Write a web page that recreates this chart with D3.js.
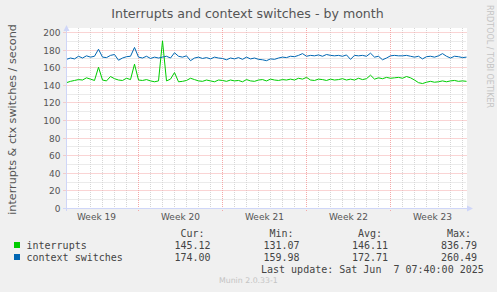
<!DOCTYPE html>
<html lang="en">
<head>
    <meta charset="UTF-8">
    <title>Interrupts and context switches - by month</title>
    <script src="https://cdn.jsdelivr.net/npm/d3@7"></script>
    <style>
        body { margin: 0; background: #f0f0f0; }
        text { font-family: "DejaVu Sans", sans-serif; fill: #555; }
        .mono { font-family: "DejaVu Sans Mono", monospace; font-size: 10px; fill: #444; white-space: pre; }
    </style>
</head>
<body>
    <script>
        // samples every 8 hours from the start of the window
        const interrupts = [
            143, 144.5, 145.5, 146.5, 146, 148.5, 147, 145.5, 160.5, 146,
            145, 150, 147.5, 146, 145.5, 148, 146.5, 164, 146, 145.5,
            146.5, 145, 144, 145, 190.5, 145, 147, 154.5, 144, 144.5,
            145.5, 148, 146.5, 145, 144.5, 146, 145, 144, 146, 145.5,
            144.5, 146, 145, 145.5, 144, 146.5, 145, 144.5, 146, 146.5,
            145, 147, 146, 145.5, 146.5, 146, 147, 146, 148, 147,
            149, 146, 145.5, 147, 146.5, 145.5, 147, 146, 146.5, 147.5,
            146, 147, 146, 148, 146.5, 147.5, 151.5, 147, 148.5, 147.5,
            149, 148, 148.5, 149, 148, 150, 148.5, 146, 143, 142,
            143.5, 144.5, 143.5, 144, 145, 144, 145, 145.5, 144.5, 145,
            144.5
        ];
        const contextSwitches = [
            169.5, 171, 170, 173, 171, 173.5, 172, 173, 181, 172,
            171.5, 174, 175, 168.5, 171, 172.5, 173, 183, 172, 171,
            173, 170.5, 172, 171, 172, 173, 171, 177, 173, 172,
            173.5, 168, 171, 172, 170.5, 171.5, 170, 172, 171, 170.5,
            169, 171, 170, 171.5, 169.5, 172, 170, 171, 169.5, 169,
            168, 170, 169.5, 171, 172, 171.5, 173, 172.5, 174, 176,
            173, 174, 173.5, 174.5, 173, 175, 174, 173.5, 174, 173,
            174.5, 169.5, 174, 173.5, 174, 173, 176.5, 172, 173, 169,
            171, 173.5, 174, 173.5, 173.5, 174, 173, 172, 173, 170,
            172.5, 173, 172, 173.5, 176, 173, 171, 173, 172.5, 171.5,
            172
        ];
        const yTicks = [0, 20, 40, 60, 80, 100, 120, 140, 160, 180, 200];
        const weekStarts = ["2025-05-05", "2025-05-12", "2025-05-19", "2025-05-26", "2025-06-02"];
        const weekLabels = ["Week 19", "Week 20", "Week 21", "Week 22", "Week 23"];
        const seriesNames = ["interrupts", "context switches"];
        const seriesColors = ["#00cc00", "#0066b3"];
        const statHeaders = ["Cur:", "Min:", "Avg:", "Max:"];
        const stats = [
            ["145.12", "131.07", "146.11", "836.79"],
            ["174.00", "159.98", "172.71", "260.49"]
        ];

        const width = 497, height = 292;
        const start = Date.UTC(2025, 4, 6);
        const end = start + 400 * 2 * 3600e3;
        const step = 8 * 3600e3;

        const svg = d3.select("body").append("svg")
            .attr("width", width)
            .attr("height", height);

        svg.append("rect").attr("width", width).attr("height", height).attr("fill", "#f0f0f0");

        const x = d3.scaleUtc().domain([start, end]).range([66.5, 466.5]);
        const y = d3.scaleLinear().domain([0, 200]).range([208.5, 32.5]);
        const py = v => Math.round(y(v) - 0.5) + 0.5;

        svg.append("rect")
            .attr("x", 66).attr("y", 28)
            .attr("width", 401).attr("height", 181)
            .attr("fill", "#fff");

        // minor grid
        const grid = svg.append("g").attr("stroke-width", 1).attr("stroke-dasharray", "1,1");
        grid.selectAll(".vmin")
            .data(d3.utcDay.range(new Date(start), new Date(end)).slice(1))
            .enter().append("line")
            .attr("x1", d => x(d)).attr("x2", d => x(d))
            .attr("y1", 28).attr("y2", 208)
            .attr("stroke", "#d6d6d6");
        grid.selectAll(".hmin")
            .data(d3.range(10, 201, 20))
            .enter().append("line")
            .attr("x1", 66.5).attr("x2", 466.5)
            .attr("y1", d => py(d)).attr("y2", d => py(d))
            .attr("stroke", "#d6d6d6");

        // major grid
        grid.selectAll(".vmaj")
            .data(weekStarts.slice(1).map(d => new Date(d)))
            .enter().append("line")
            .attr("x1", d => x(d)).attr("x2", d => x(d))
            .attr("y1", 28).attr("y2", 211)
            .attr("stroke", "#f4a8a8");
        grid.selectAll(".hmaj")
            .data(yTicks.slice(1))
            .enter().append("line")
            .attr("x1", 63.5).attr("x2", 466.5)
            .attr("y1", d => py(d)).attr("y2", d => py(d))
            .attr("stroke", "#f4a8a8");

        const line = d3.line()
            .x((d, i) => x(new Date(start + i * step)))
            .y(d => y(d));

        [interrupts, contextSwitches].forEach((s, k) => {
            svg.append("path")
                .datum(s)
                .attr("d", line)
                .attr("fill", "none")
                .attr("stroke", seriesColors[k])
                .attr("stroke-width", 1);
        });

        // axes with arrows
        const axisColor = "#cfd6f8";
        svg.append("line").attr("x1", 63).attr("x2", 468).attr("y1", 208.5).attr("y2", 208.5).attr("stroke", axisColor);
        svg.append("line").attr("x1", 66.5).attr("x2", 66.5).attr("y1", 211).attr("y2", 30).attr("stroke", axisColor);
        svg.append("path").attr("d", "M467,205.5L473,208.5L467,211.5Z").attr("fill", axisColor);
        svg.append("path").attr("d", "M63.5,31L66.5,25L69.5,31Z").attr("fill", axisColor);

        svg.selectAll(".ylab")
            .data(yTicks)
            .enter().append("text")
            .attr("x", 60.5)
            .attr("y", d => py(d) + 3.5)
            .attr("text-anchor", "end")
            .attr("font-size", 9)
            .text(d => d);

        svg.selectAll(".xlab")
            .data(weekStarts)
            .enter().append("text")
            .attr("x", d => x(new Date(+new Date(d) + 3.5 * 864e5)))
            .attr("y", 220)
            .attr("text-anchor", "middle")
            .attr("font-size", 9)
            .text((d, i) => weekLabels[i]);

        svg.append("text")
            .attr("x", 247.5).attr("y", 18)
            .attr("text-anchor", "middle")
            .attr("font-size", 12.6)
            .text("Interrupts and context switches - by month");

        svg.append("text")
            .attr("transform", "translate(15.5,119.5) rotate(-90)")
            .attr("text-anchor", "middle")
            .attr("font-size", 11.2)
            .text("interrupts & ctx switches / second");

        svg.append("text")
            .attr("transform", "translate(486.5,5) rotate(90)")
            .attr("font-size", 8)
            .style("fill", "#c4c4c4")
            .text("RRDTOOL / TOBI OETIKER");

        // legend
        const colX = [174.5, 263.5, 352, 441];
        svg.selectAll(".hdr")
            .data(statHeaders)
            .enter().append("text")
            .attr("class", "mono")
            .attr("x", (d, i) => colX[i] + 6)
            .attr("y", 237)
            .text(d => d);

        seriesNames.forEach((name, k) => {
            const ry = 249 + k * 12;
            svg.append("rect")
                .attr("x", 14).attr("y", ry - 7)
                .attr("width", 6).attr("height", 6)
                .attr("fill", seriesColors[k]);
            svg.append("text").attr("class", "mono").attr("x", 26.5).attr("y", ry).text(name);
            stats[k].forEach((v, i) => {
                svg.append("text").attr("class", "mono").attr("x", colX[i]).attr("y", ry).text(v);
            });
        });

        svg.append("text")
            .attr("class", "mono")
            .attr("x", 261)
            .attr("y", 273)
            .text("Last update: Sat Jun  7 07:40:00 2025");

        svg.append("text")
            .attr("x", 219).attr("y", 283)
            .attr("font-size", 7.8)
            .style("fill", "#c4c4c4")
            .text("Munin 2.0.33-1");
    </script>
</body>
</html>
